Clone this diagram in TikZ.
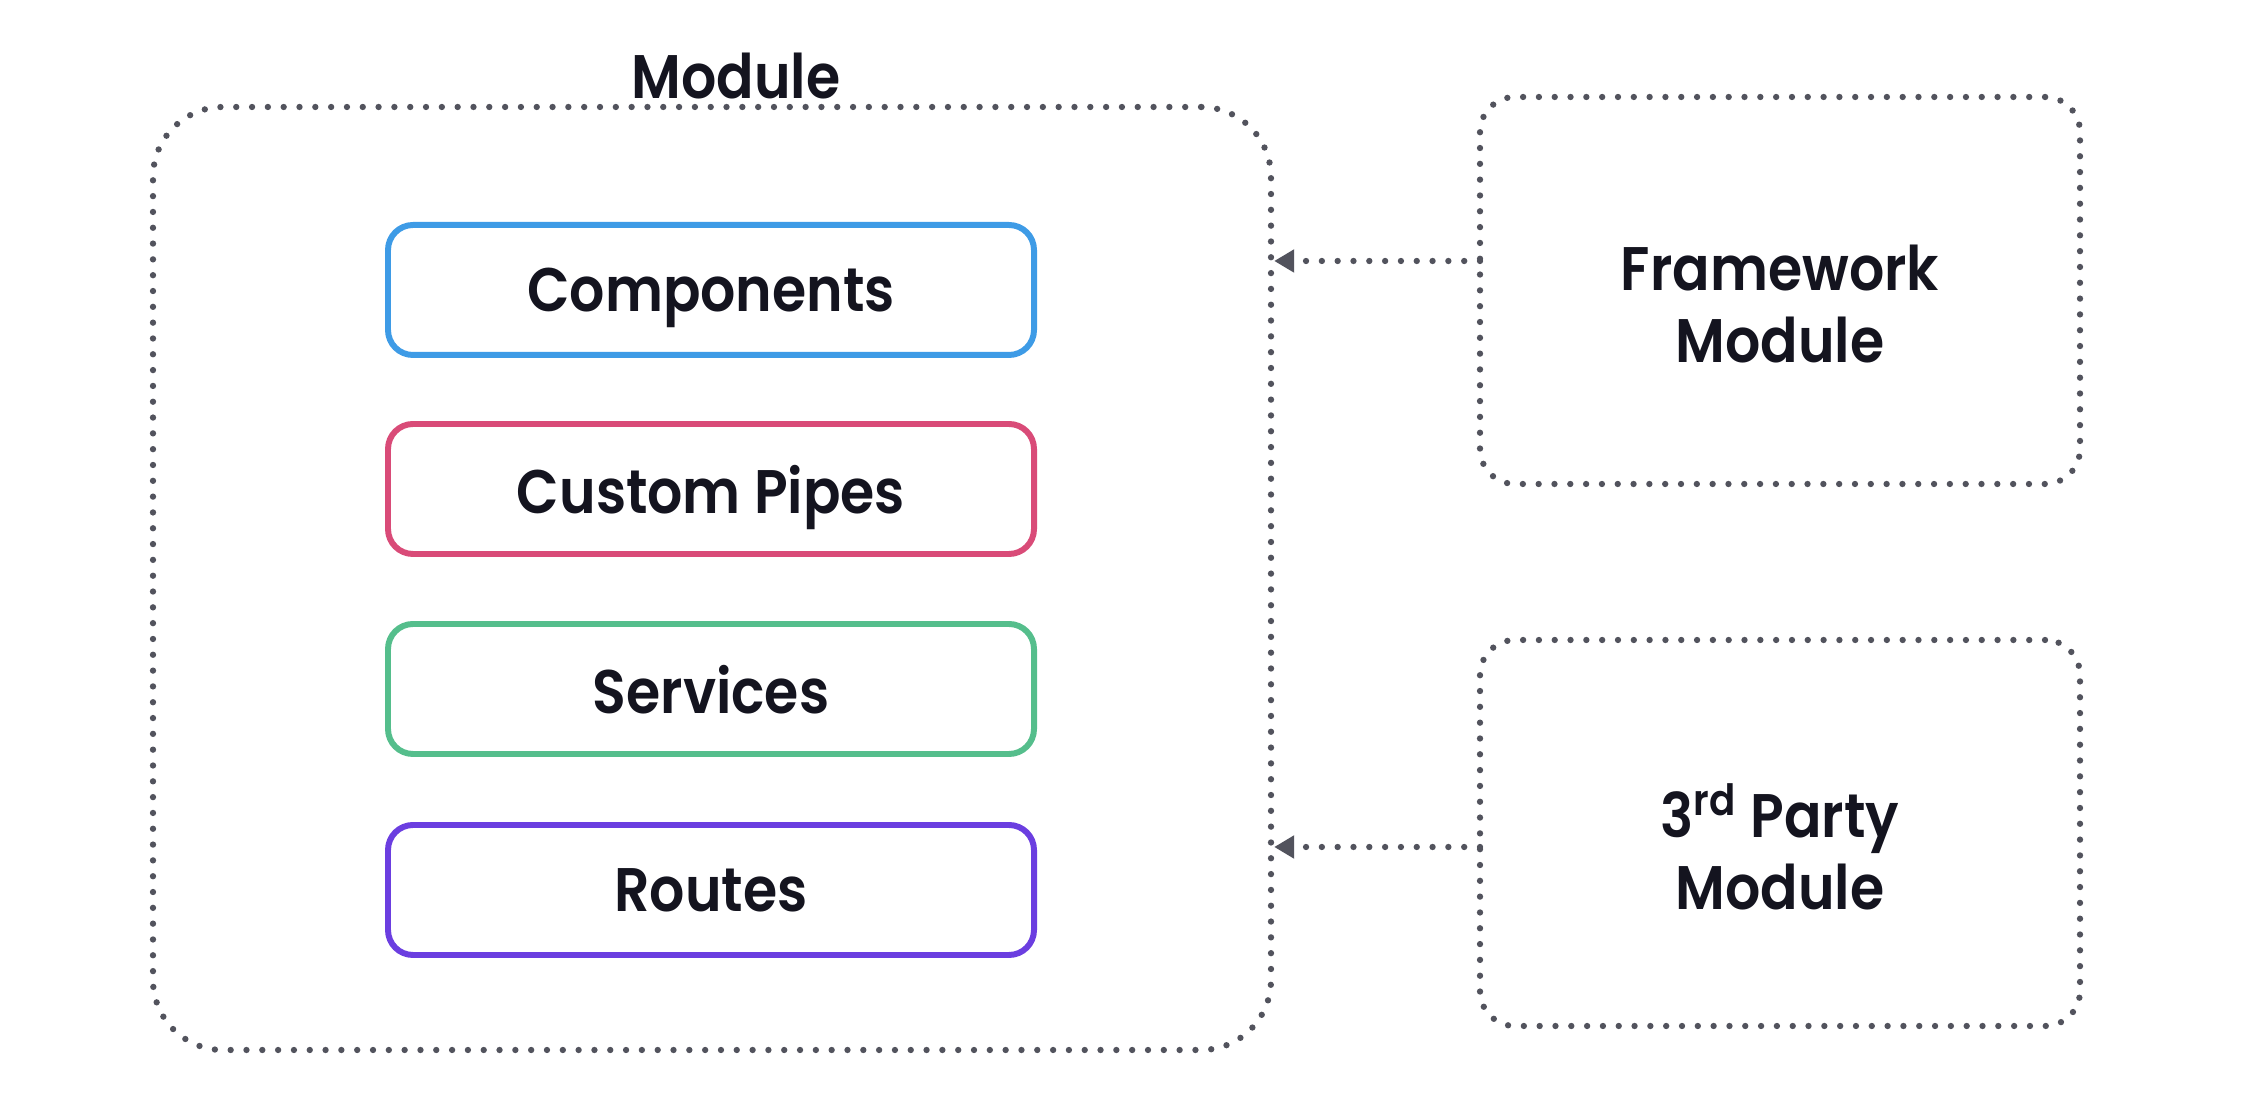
\documentclass[tikz,border=0pt]{standalone}
\usepackage{fontspec}
\setmainfont{Poppins}[BoldFont={Poppins SemiBold}, FakeStretch=0.9]
\usetikzlibrary{arrows.meta}
\definecolor{inkdark}{HTML}{14141F}
\definecolor{dotgray}{HTML}{52535D}
\definecolor{compblue}{HTML}{3E9BE6}
\definecolor{pipepink}{HTML}{D94B78}
\definecolor{servgreen}{HTML}{55BE8C}
\definecolor{routepurple}{HTML}{6B3EE0}
\newcommand{\boxlabel}[1]{\fontsize{17.5}{20.5}\selectfont\bfseries #1}

\begin{document}
\begin{tikzpicture}[every node/.style = {text = inkdark, font = \boxlabel{}},
	dotline/.style = {draw = dotgray, line width = 1.8pt, dash pattern = on 0pt off 4.5pt, line cap = round},
	dotbox/.style = {dotline, rounded corners = #1},
	partbox/.style = {draw = #1, line width = 1.7pt, rounded corners = 0.25cm, minimum width = 6.46cm, minimum height = 1.30cm, text depth = 0pt}]

	\useasboundingbox (0,0) rectangle (22.46,-11.04);

	\node (MOD) at ( 7.12, -5.785) [dotbox = 0.7cm, minimum width = 11.18cm, minimum height = 9.43cm] {};
	\node (MODL) at ( 7.36, -0.76) [text depth = 0pt] {Module};

	\node (CMP) at ( 7.11, -2.90) [partbox = compblue]    {Components};
	\node (PIP) at ( 7.11, -4.89) [partbox = pipepink]    {Custom Pipes};
	\node (SRV) at ( 7.11, -6.89) [partbox = servgreen]   {Services};
	\node (RTE) at ( 7.11, -8.90) [partbox = routepurple] {Routes};

	\node (FWM) at (17.80, -2.905) [dotbox = 0.35cm, minimum width = 6.0cm, minimum height = 3.87cm,
		label = {[align = center, yshift = -0.14cm]center:Framework\\Module}] {};
	\node (TPM) at (17.80, -8.33) [dotbox = 0.35cm, minimum width = 6.0cm, minimum height = 3.86cm,
		label = {[align = center, yshift = -0.14cm]center:3\textsuperscript{rd} Party\\Module}] {};

	\coordinate (FWout) at (14.80, -2.61);
	\coordinate (TPout) at (14.80, -8.47);

	\foreach \from in {FWout, TPout}
		\draw [dotline, -{Triangle[length = 0.2cm, width = 0.22cm, line cap = butt]}] (\from) -- (\from -| MOD.east);
\end{tikzpicture}
\end{document}
